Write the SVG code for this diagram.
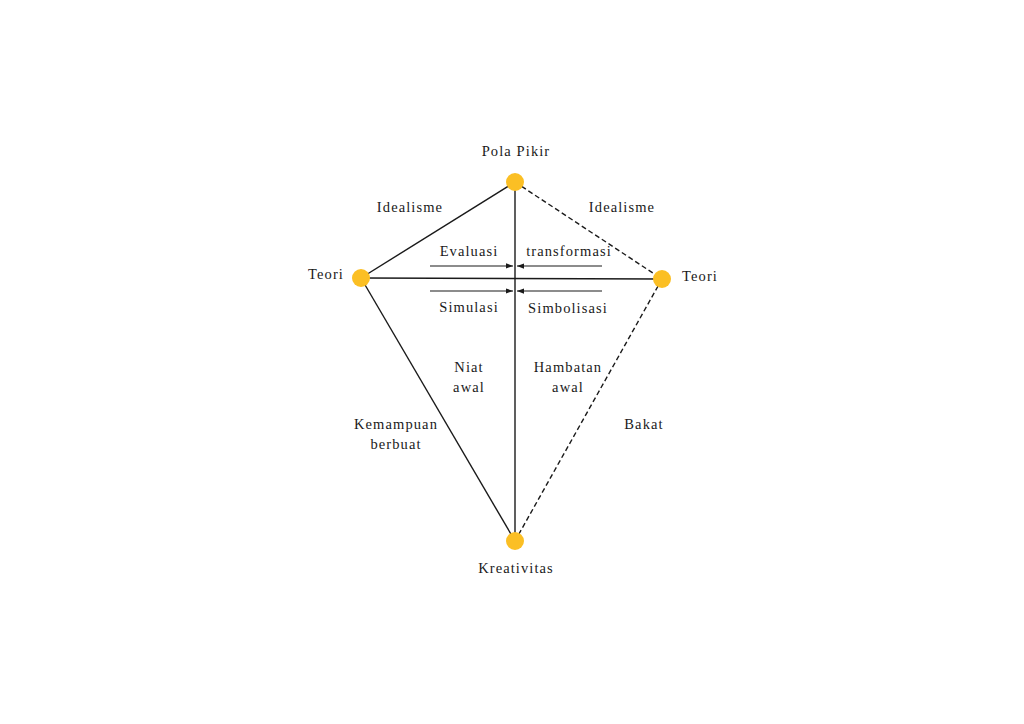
<svg xmlns="http://www.w3.org/2000/svg" width="1024" height="724" viewBox="0 0 1024 724">
<style>
text{font-family:'Liberation Serif','Times New Roman','DejaVu Serif',serif;font-size:14.5px;letter-spacing:1.1px;fill:#1a1a1a;text-anchor:middle}
.s{stroke:#1a1a1a;stroke-width:1.4;fill:none}
.d{stroke:#1a1a1a;stroke-width:1.4;fill:none;stroke-dasharray:5,3}
.a{stroke:#1a1a1a;stroke-width:1.2;fill:none}
.n{fill:#FBBF24}
</style>
<defs>
<marker id="ah" viewBox="0 0 8 8" refX="8" refY="4" markerWidth="6" markerHeight="6" orient="auto"><path d="M0,1 L8,4 L0,7 z" fill="#1a1a1a"/></marker>
</defs>
<rect width="1024" height="724" fill="#fff"/>
<g id="connectors">
<line class="s" x1="515" y1="182" x2="361" y2="278"/>
<line class="d" x1="515" y1="182" x2="662" y2="279"/>
<line class="s" x1="361" y1="278" x2="515" y2="541"/>
<line class="d" x1="662" y1="279" x2="515" y2="541"/>
<line class="s" x1="515" y1="182" x2="515" y2="541"/>
<line class="s" x1="361" y1="278" x2="662" y2="279"/>
<line class="a" x1="430" y1="266" x2="513" y2="266" marker-end="url(#ah)"/>
<line class="a" x1="602" y1="266" x2="517" y2="266" marker-end="url(#ah)"/>
<line class="a" x1="430" y1="291" x2="513" y2="291" marker-end="url(#ah)"/>
<line class="a" x1="602" y1="291" x2="517" y2="291" marker-end="url(#ah)"/>
</g>
<g id="node-pola-pikir"><circle class="n" cx="515" cy="182" r="9"/><text x="516" y="156">Pola Pikir</text></g>
<g id="node-teori-left"><circle class="n" cx="361" cy="278" r="9"/><text x="326" y="279">Teori</text></g>
<g id="node-teori-right"><circle class="n" cx="662" cy="279" r="9"/><text x="700" y="281">Teori</text></g>
<g id="node-kreativitas"><circle class="n" cx="515" cy="541" r="9"/><text x="516" y="573">Kreativitas</text></g>
<g id="labels">
<text x="410" y="212">Idealisme</text>
<text x="622" y="212">Idealisme</text>
<text x="469" y="256">Evaluasi</text>
<text x="569" y="256">transformasi</text>
<text x="469" y="312">Simulasi</text>
<text x="568" y="313">Simbolisasi</text>
<text x="469" y="372">Niat</text>
<text x="469" y="392">awal</text>
<text x="568" y="372">Hambatan</text>
<text x="568" y="392">awal</text>
<text x="396" y="429">Kemampuan</text>
<text x="396" y="449">berbuat</text>
<text x="644" y="429">Bakat</text>
</g>
</svg>
